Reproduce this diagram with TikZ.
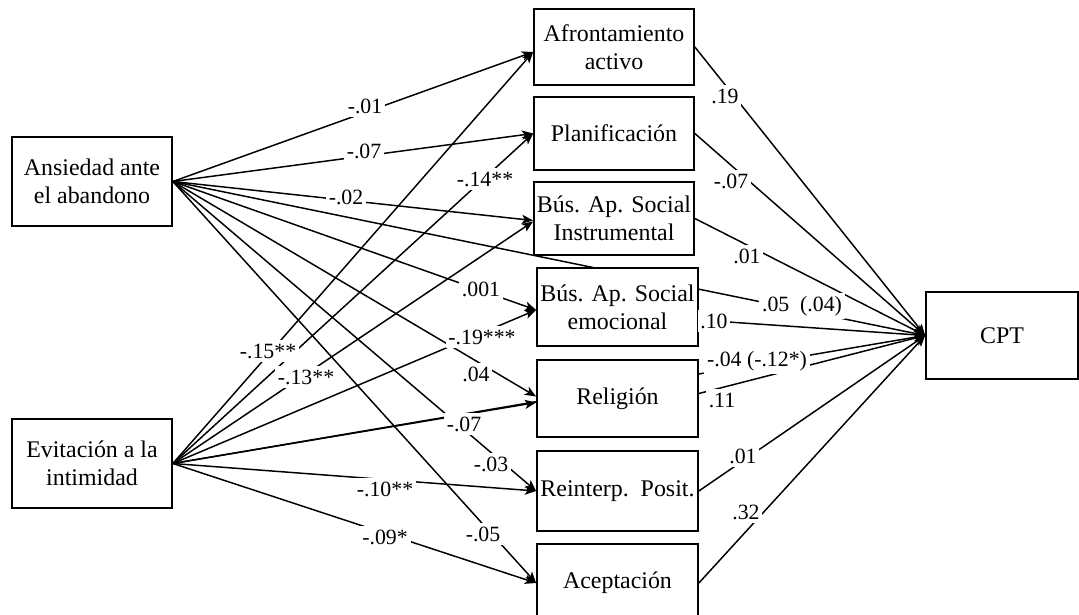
\documentclass[tikz,border=0pt]{standalone}
\usepackage{fontspec}
\setmainfont{Liberation Serif}
\usetikzlibrary{arrows.meta,calc,backgrounds}

\begin{document}
\begin{tikzpicture}[x=0.025cm,y=-0.025cm,
  box/.style={draw,line width=1.2pt,fill=white,align=center,inner sep=2pt,
    font=\fontsize{17}{20}\selectfont},
  effect/.style={line width=1.05pt,-{Stealth[length=8pt,width=6.5pt,inset=2pt]}},
  coef/.style={fill=white,inner xsep=2pt,inner ysep=2.5pt,font=\fontsize{15.5}{18}\selectfont}]
\useasboundingbox (0,0) rectangle (1079,615);

% predictors
\node[box,minimum width=4cm,minimum height=2.225cm] (ans) at (92,181.5) {Ansiedad ante\\el abandono};
\node[box,minimum width=4cm,minimum height=2.225cm] (evi) at (92,463.5) {Evitación a la\\intimidad};

% coping strategies
\node[box,minimum width=4cm,minimum height=1.9cm] (afr) at (614,47) {Afrontamiento\\activo};
\node[box,minimum width=4cm,minimum height=1.825cm] (pla) at (614,133.5) {Planificación};
\node[box,minimum width=4cm,minimum height=1.825cm] (ins) at (614,218.5) {Bús. Ap. Social\\Instrumental};
\node[box,minimum width=4.025cm,minimum height=1.95cm] (emo) at (617.5,307) {Bús. Ap. Social\\emocional};
\node[box,minimum width=4.025cm,minimum height=1.925cm] (rel) at (617.5,398.5) {Religión};
\node[box,minimum width=4.025cm,minimum height=2cm] (rei) at (617.5,491) {Reinterp.\ \ Posit.};
\node[box,minimum width=4.025cm,minimum height=1.95cm] (ace) at (617.5,583) {Aceptación};

% outcome
\node[box,minimum width=3.8cm,minimum height=2.175cm] (cpt) at (1002,335.5) {CPT};

\begin{scope}[on background layer]
  % from Ansiedad ante el abandono
  \draw[effect] (ans.east) -- ($(afr.west)+(0,5)$);
  \draw[effect] (ans.east) -- (pla.west);
  \draw[effect] (ans.east) -- ($(ins.west)+(0,2)$);
  \draw[effect] (ans.east) -- ($(emo.west)+(0,3)$);
  \draw[effect] (ans.east) -- ($(rel.west)+(0,-2)$);
  \draw[effect] (ans.east) -- (rei.west);
  \draw[effect] (ans.east) -- (ace.west);
  \draw[effect] (ans.east) -- (cpt.west);
  % from Evitación a la intimidad
  \draw[effect] (evi.east) -- ($(afr.west)+(0,5)$);
  \draw[effect] (evi.east) -- (pla.west);
  \draw[effect] (evi.east) -- ($(ins.west)+(0,3)$);
  \draw[effect] (evi.east) -- ($(emo.west)+(0,3)$);
  \draw[effect] (evi.east) -- ($(rel.west)+(0,4)$);
  \draw[effect] (evi.east) -- (rei.west);
  \draw[effect] (evi.east) -- (ace.west);
  \draw[effect] (evi.east) -- (cpt.west);
  % strategies to CPT
  \draw[effect] (afr.east) -- (cpt.west);
  \draw[effect] (pla.east) -- (cpt.west);
  \draw[effect] (ins.east) -- (cpt.west);
  \draw[effect] ($(emo.east)+(0,13)$) -- (cpt.west);
  \draw[effect] ($(rel.east)+(0,-5)$) -- (cpt.west);
  \draw[effect] (rei.east) -- (cpt.west);
  \draw[effect] (ace.east) -- (cpt.west);
\end{scope}

% coefficients, Ansiedad ante el abandono
\node[coef] (ca1) at (365,106) {-.01};
\node[coef] (ca2) at (364,151) {-.07};
\node[coef] (ca3) at (346,197) {-.02};
\node[coef] (ca4) at (481,289) {.001};
\node[coef] (ca5) at (476,374) {.04};
\node[coef] (ca6) at (491,464) {-.03};
\node[coef] (ca7) at (483,534) {-.05};
\node[coef] (ca8) at (802,306) {.05\ \ (.04)};
% coefficients, Evitación a la intimidad
\node[coef] (ce1) at (268,351) {-.15**};
\node[coef] (ce2) at (485,179) {-.14**};
\node[coef] (ce3) at (306,377) {-.13**};
\node[coef] (ce4) at (482,337) {-.19***};
\node[coef] (ce5) at (464,424) {-.07};
\node[coef] (ce6) at (385,489) {-.10**};
\node[coef] (ce7) at (385,537) {-.09*};
\node[coef] (ce8) at (757,361) {-.04 (-.12*)};
% coefficients, strategies to CPT
\node[coef] (cm1) at (725,96) {.19};
\node[coef] (cm2) at (731,181) {-.07};
\node[coef] (cm3) at (747,256) {.01};
\node[coef] (cm4) at (714,321) {.10};
\node[coef] (cm5) at (722,400) {.11};
\node[coef] (cm6) at (743,456) {.01};
\node[coef] (cm7) at (746,512) {.32};
\end{tikzpicture}
\end{document}
